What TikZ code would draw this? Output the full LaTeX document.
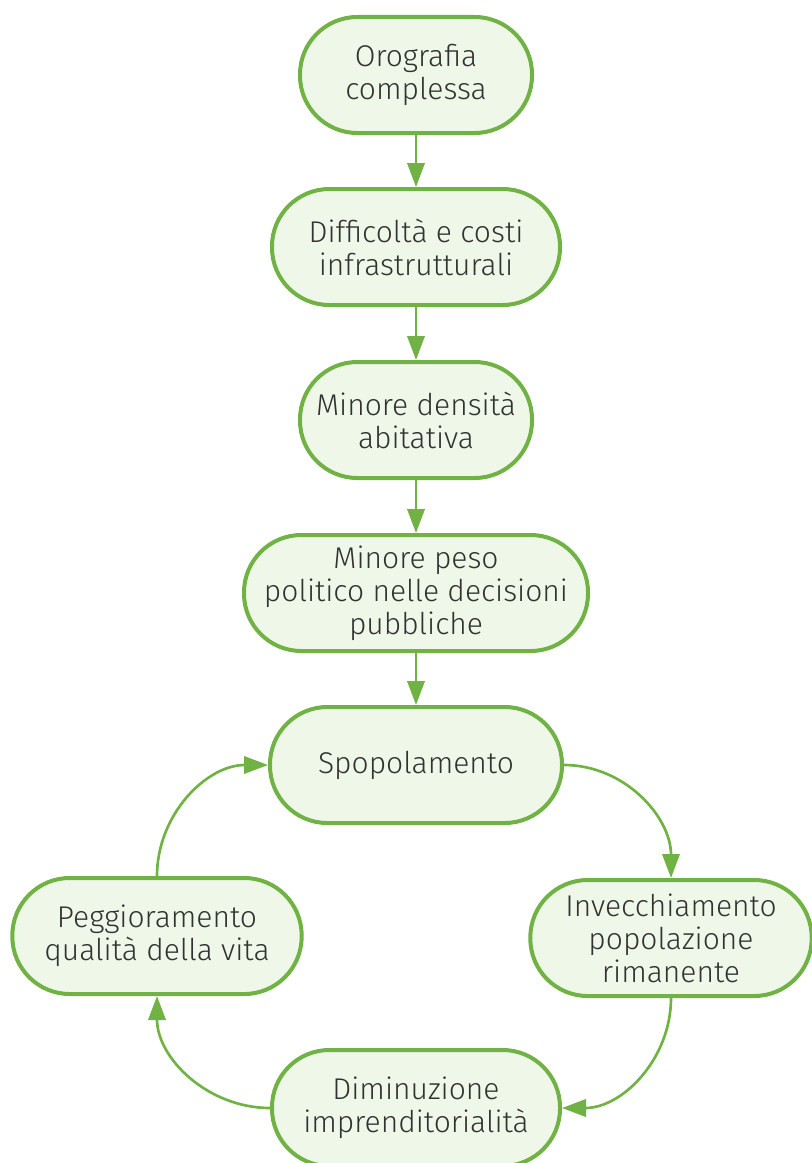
\documentclass[tikz,border=0pt]{standalone}
\usepackage{fontspec}
\setmainfont{Fira Sans}[UprightFont=* Light]
\usetikzlibrary{arrows.meta}
\definecolor{bordo}{RGB}{112,178,68}
\definecolor{sfondo}{RGB}{239,247,233}
\definecolor{testo}{RGB}{50,50,50}
\tikzset{
capsula/.style={draw=bordo, fill=sfondo, line width=3pt, rounded corners=43pt,
  minimum height=87pt, inner sep=0pt, align=center, text=testo,
  font=\fontsize{22.5}{24.75}\selectfont},
freccia/.style={draw=bordo, line width=2pt, -{Triangle[length=18pt,width=13pt]}}
}
\begin{document}
\begin{tikzpicture}[x=0.75pt,y=0.75pt,yscale=-1]
\useasboundingbox (0,0) rectangle (812,1163);

% Catena verticale
\node[capsula, minimum width=174pt] (orografia) at (416,75) {Orografia\\complessa};
\node[capsula, minimum width=216pt] (difficolta) at (416,247) {Difficoltà e costi\\infrastrutturali};
\node[capsula, minimum width=174pt] (densita) at (416,420) {Minore densità\\abitativa};
\node[capsula, minimum width=258pt] (peso) at (416,593) {Minore peso\\politico nelle decisioni\\pubbliche};
\node[capsula, minimum width=219pt] (spopolamento) at (416,765) {Spopolamento};

% Ciclo
\node[capsula, minimum width=217pt] (peggioramento) at (157,936) {Peggioramento\\qualità della vita};
\node[capsula, minimum width=211pt] (invecchiamento) at (671,938) {Invecchiamento\\popolazione\\rimanente};
\node[capsula, minimum width=216pt] (diminuzione) at (416,1108) {Diminuzione\\imprenditorialità};

% Frecce (yscale=-1: gli angoli sono capovolti)
\draw[freccia] (orografia) -- (difficolta);
\draw[freccia] (difficolta) -- (densita);
\draw[freccia] (densita) -- (peso);
\draw[freccia] (peso) -- (spopolamento);

\draw[freccia] (spopolamento.east) to[out=0,in=-90] (invecchiamento.north);
\draw[freccia] (invecchiamento.south) to[out=90,in=0] (diminuzione.east);
\draw[freccia] (diminuzione.west) to[out=180,in=90] (peggioramento.south);
\draw[freccia] (peggioramento.north) to[out=-90,in=180] (spopolamento.west);

\end{tikzpicture}
\end{document}
